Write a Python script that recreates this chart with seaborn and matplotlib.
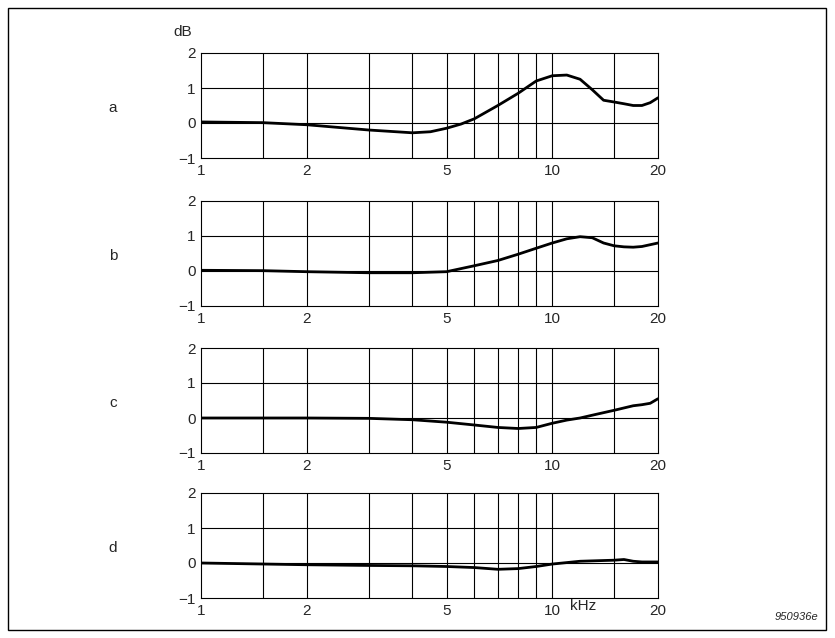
import matplotlib
matplotlib.use("Agg")
import matplotlib.pyplot as plt
import seaborn as sns
import pandas as pd
from matplotlib.patches import Rectangle

sns.set_style("white")
plt.rcParams['font.family'] = ['Liberation Sans', 'DejaVu Sans']

freq_a = [1, 1.5, 2, 3, 4, 4.5, 5, 5.5, 6, 7, 8, 9, 10, 11, 12, 13, 14, 15, 16, 17, 18, 19, 20]
db_a = [0.03, 0.01, -0.05, -0.2, -0.28, -0.25, -0.15, -0.03, 0.12, 0.5, 0.85, 1.2, 1.35, 1.37, 1.25, 0.95, 0.65, 0.6, 0.55, 0.5, 0.5, 0.58, 0.72]
freq_b = [1, 1.5, 2, 3, 4, 5, 6, 7, 8, 9, 10, 11, 12, 13, 14, 15, 16, 17, 18, 20]
db_b = [0.02, 0.01, -0.02, -0.05, -0.05, -0.02, 0.15, 0.3, 0.48, 0.65, 0.8, 0.92, 0.98, 0.95, 0.8, 0.72, 0.69, 0.68, 0.7, 0.8]
freq_c = [1, 2, 3, 4, 5, 6, 7, 8, 9, 10, 11, 12, 13, 15, 17, 18, 19, 20]
db_c = [0.0, 0.0, -0.01, -0.05, -0.12, -0.2, -0.27, -0.3, -0.27, -0.15, -0.06, 0.0, 0.08, 0.22, 0.35, 0.38, 0.42, 0.55]
freq_d = [1, 2, 3, 4, 5, 6, 7, 8, 9, 10, 12, 15, 16, 17, 18, 20]
db_d = [0.0, -0.05, -0.07, -0.08, -0.1, -0.13, -0.18, -0.16, -0.1, -0.03, 0.05, 0.08, 0.1, 0.05, 0.03, 0.03]
labels = ["a", "b", "c", "d"]
grid_x = [1.5, 2, 3, 4, 5, 6, 7, 8, 9, 10, 15]
xticks = [1, 2, 5, 10, 20]

W, H = 835, 638
fig = plt.figure(figsize=(W/100, H/100), dpi=100)
fig.patches.append(Rectangle((8/W, 8/H), 818/W, 622/H, transform=fig.transFigure,
                             fill=False, lw=1, ec='black'))
tops = [53, 201, 348, 493]
series = [(freq_a, db_a), (freq_b, db_b), (freq_c, db_c), (freq_d, db_d)]
for i, (top, (f, d), lab) in enumerate(zip(tops, series, labels)):
    ax = fig.add_axes([201/W, 1-(top+105)/H, 457/W, 105/H])
    df = pd.DataFrame({"f": f, "d": d})
    sns.lineplot(data=df, x="f", y="d", ax=ax, color='black', lw=2)
    ax.set_xscale('log')
    ax.set_xlim(1, 20)
    ax.set_ylim(-1, 2)
    for g in grid_x:
        ax.axvline(g, color='black', lw=0.8)
    for g in [0, 1]:
        ax.axhline(g, color='black', lw=0.8)
    ax.set_xticks(xticks)
    ax.set_xticklabels([str(t) for t in xticks])
    ax.xaxis.set_minor_locator(matplotlib.ticker.NullLocator())
    ax.set_yticks([-1, 0, 1, 2])
    ax.set_yticklabels(['\u22121', '0', '1', '2'])
    ax.tick_params(length=0, labelsize=11, pad=4)
    ax.set_xlabel('')
    ax.set_ylabel('')
    for s in ax.spines.values():
        s.set_color('black'); s.set_linewidth(0.8)
    fig.text(113/W, 1-(top+55)/H, lab, fontsize=11, ha='center', va='center')
fig.text(183/W, 1-32/H, 'dB', fontsize=11, ha='center', va='center')
fig.text(583/W, 1-606/H, 'kHz', fontsize=11, ha='center', va='center')
fig.text(818/W, 1-617/H, '950936e', fontsize=8, style='italic', ha='right', va='center')
fig.savefig('out.png', dpi=100)
